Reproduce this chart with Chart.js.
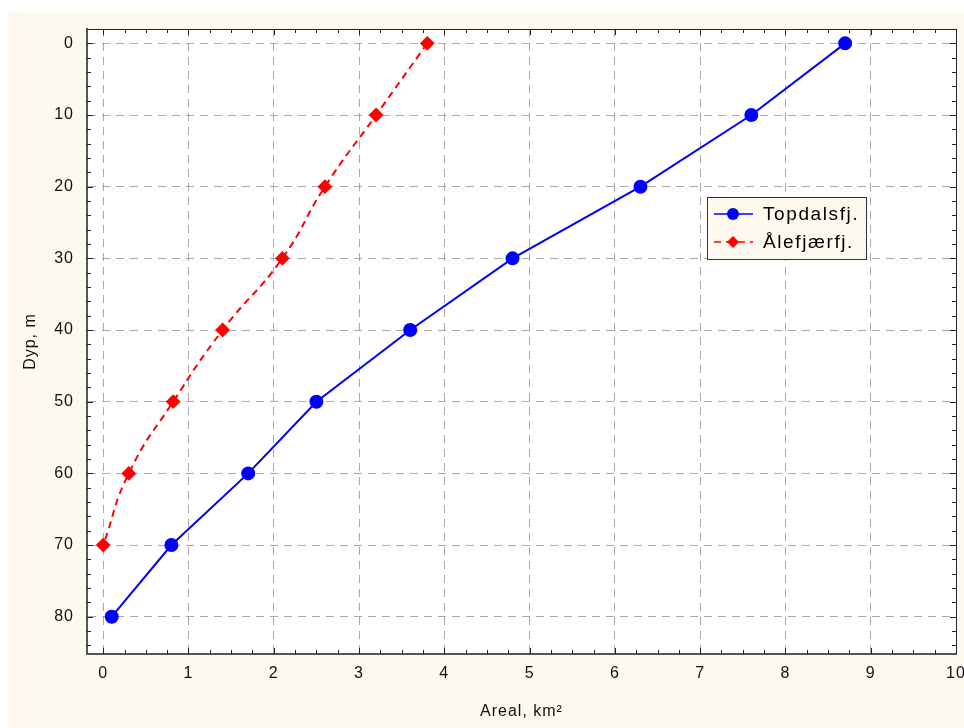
<!DOCTYPE html>
<html>
<head>
<meta charset="utf-8">
<script src="https://cdn.jsdelivr.net/npm/chart.js@4"></script>
<style>
  html, body { margin: 0; padding: 0; background: #ffffff; }
  #wrap { width: 964px; height: 728px; position: relative; }
</style>
</head>
<body>
<div id="wrap"><canvas id="fjordChart"></canvas></div>
<script>
// dybde (m) og areal (km2)
const depths = [0, 10, 20, 30, 40, 50, 60, 70, 80];
const topdalsArea = [8.7, 7.6, 6.3, 4.8, 3.6, 2.5, 1.7, 0.8, 0.1];
const alefjaerDepths = [0, 10, 20, 30, 40, 50, 60, 70];
const alefjaerArea = [3.8, 3.2, 2.6, 2.1, 1.4, 0.82, 0.3, 0.0];

const xTicks = [0, 1, 2, 3, 4, 5, 6, 7, 8, 9, 10];
const yTicks = [0, 10, 20, 30, 40, 50, 60, 70, 80];

const seriesNames = ['Topdalsfj.', 'Ålefjærfj.'];

const cream = '#fdf9ef';
const fontFamily = '"Liberation Sans", Arial, sans-serif';

// bakgrunn: kremfarget ramme og hvitt plottområde
const backgroundPlugin = {
    id: 'background',
    beforeDraw(chart) {
        const { ctx, chartArea } = chart;
        ctx.save();
        ctx.fillStyle = cream;
        ctx.fillRect(8, 12, chart.width - 8, chart.height - 12);
        ctx.fillStyle = '#ffffff';
        ctx.fillRect(chartArea.left, chartArea.top, chartArea.right - chartArea.left, chartArea.bottom - chartArea.top);
        ctx.restore();
        ctx.letterSpacing = '1px'; // litt luft mellom tegnene som i originalen
    },
};

// små og store merker innover på alle fire sider + topp/høyre kant
const frameTicksPlugin = {
    id: 'frameTicks',
    afterDraw(chart) {
        const { ctx, chartArea } = chart;
        const xs = chart.scales.x;
        const ys = chart.scales.y;
        ctx.save();
        ctx.strokeStyle = '#222';
        ctx.lineWidth = 1;

        // topp- og høyrekant
        ctx.beginPath();
        ctx.moveTo(chartArea.left, chartArea.top + 0.5);
        ctx.lineTo(chartArea.right + 0.5, chartArea.top + 0.5);
        ctx.lineTo(chartArea.right + 0.5, chartArea.bottom);
        ctx.stroke();

        ctx.beginPath();
        for (let v = 0; v <= 10.001; v += 0.25) {
            const px = Math.round(xs.getPixelForValue(v)) + 0.5;
            const len = Math.abs(v - Math.round(v)) < 0.01 ? 6 : 4;
            ctx.moveTo(px, chartArea.bottom);
            ctx.lineTo(px, chartArea.bottom - len);
            ctx.moveTo(px, chartArea.top);
            ctx.lineTo(px, chartArea.top + len);
        }
        for (let v = 0; v <= 85; v += 2) {
            const py = Math.round(ys.getPixelForValue(v)) + 0.5;
            const len = v % 10 === 0 ? 6 : 4;
            ctx.moveTo(chartArea.left, py);
            ctx.lineTo(chartArea.left + len, py);
            ctx.moveTo(chartArea.right, py);
            ctx.lineTo(chartArea.right - len, py);
        }
        ctx.stroke();
        ctx.restore();
    },
};

// tegnforklaring inne i plottet
const boxLegendPlugin = {
    id: 'boxLegend',
    afterDraw(chart) {
        const { ctx } = chart;
        const x0 = 707, y0 = 197, w = 159, h = 62;
        ctx.save();
        ctx.fillStyle = cream;
        ctx.fillRect(x0, y0, w, h);
        ctx.strokeStyle = '#333';
        ctx.lineWidth = 1;
        ctx.strokeRect(x0 + 0.5, y0 + 0.5, w, h);

        ctx.font = '19px ' + fontFamily;
        ctx.letterSpacing = '1.6px';
        ctx.textBaseline = 'middle';

        chart.data.datasets.forEach((ds, i) => {
            const cy = y0 + 17 + i * 28;
            ctx.strokeStyle = ds.borderColor;
            ctx.lineWidth = 1.5;
            ctx.setLineDash(ds.borderDash || []);
            ctx.beginPath();
            ctx.moveTo(714, cy);
            ctx.lineTo(753, cy);
            ctx.stroke();
            ctx.setLineDash([]);
            ctx.fillStyle = ds.pointBackgroundColor;
            ctx.beginPath();
            if (ds.pointStyle === 'rectRot') {
                const r = 6;
                ctx.moveTo(733, cy - r);
                ctx.lineTo(733 + r, cy);
                ctx.lineTo(733, cy + r);
                ctx.lineTo(733 - r, cy);
                ctx.closePath();
            } else {
                ctx.arc(733, cy, 6, 0, Math.PI * 2);
            }
            ctx.fill();
            ctx.fillStyle = '#000';
            ctx.fillText(ds.label, 763, cy + 1);
        });
        ctx.restore();
    },
};

const gridDash = {
    color: 'rgba(140,140,140,0.75)',
    lineWidth: 1,
    drawTicks: false,
};

const ctx = document.getElementById('fjordChart').getContext('2d');
new Chart(ctx, {
    type: 'scatter',
    data: {
        datasets: [
            {
                label: seriesNames[0],
                data: depths.map((d, i) => ({ x: topdalsArea[i], y: d })),
                showLine: true,
                borderColor: '#0000ff',
                backgroundColor: '#0000ff',
                pointBackgroundColor: '#0000ff',
                pointBorderColor: '#0000ff',
                borderWidth: 2,
                pointStyle: 'circle',
                pointRadius: 6,
                tension: 0,
            },
            {
                label: seriesNames[1],
                data: alefjaerDepths.map((d, i) => ({ x: alefjaerArea[i], y: d })),
                showLine: true,
                borderColor: '#ff0000',
                backgroundColor: '#ff0000',
                pointBackgroundColor: '#ff0000',
                pointBorderColor: '#ff0000',
                borderWidth: 2,
                borderDash: [7, 5],
                pointStyle: 'rectRot',
                pointRadius: 6,
                tension: 0.5,
            },
        ],
    },
    options: {
        responsive: true,
        maintainAspectRatio: false,
        animation: false,
        layout: {
            padding: { top: 29, right: 8, left: 0, bottom: 0 },
        },
        plugins: {
            legend: { display: false },
            tooltip: { enabled: false },
        },
        scales: {
            x: {
                type: 'linear',
                min: -0.19,
                max: 10,
                afterBuildTicks: scale => {
                    scale.ticks = xTicks.map(v => ({ value: v }));
                },
                afterFit: scale => {
                    scale.height = 74;
                    scale.paddingLeft = 0;
                    scale.paddingRight = 0;
                },
                grid: gridDash,
                border: { display: true, color: '#555', width: 2, dash: [8, 6] },
                ticks: {
                    color: '#111',
                    padding: 10,
                    font: { family: fontFamily, size: 16 },
                },
                title: {
                    display: true,
                    text: 'Areal, km²',
                    color: '#111',
                    padding: { bottom: 7 },
                    font: { family: fontFamily, size: 16 },
                },
            },
            y: {
                type: 'linear',
                reverse: true,
                min: -2,
                max: 85.2,
                afterBuildTicks: scale => {
                    scale.ticks = yTicks.map(v => ({ value: v }));
                },
                afterFit: scale => {
                    scale.width = 87;
                    scale.paddingTop = 0;
                    scale.paddingBottom = 0;
                },
                grid: gridDash,
                border: { display: true, color: '#555', width: 2, dash: [8, 6] },
                ticks: {
                    color: '#111',
                    padding: 13,
                    font: { family: fontFamily, size: 16 },
                },
                title: {
                    display: true,
                    text: 'Dyp, m',
                    color: '#111',
                    padding: { top: 21 },
                    font: { family: fontFamily, size: 16 },
                },
            },
        },
    },
    plugins: [backgroundPlugin, frameTicksPlugin, boxLegendPlugin],
});
</script>
</body>
</html>
